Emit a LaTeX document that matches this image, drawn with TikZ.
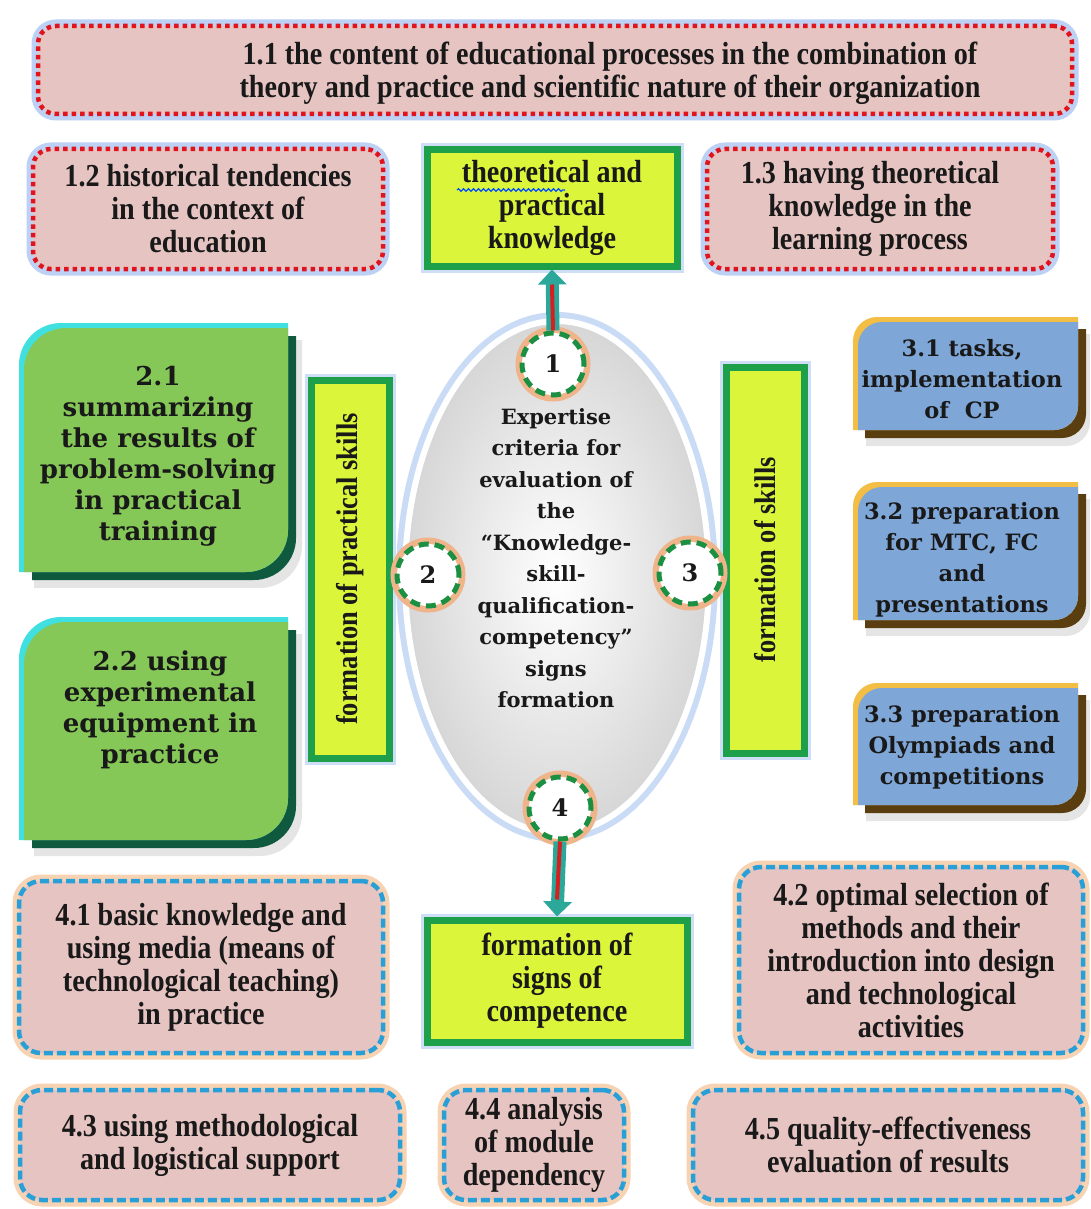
\documentclass[tikz,border=0pt]{standalone}
\usepackage{fontspec}
\setmainfont{Liberation Serif}
\newfontfamily\condfont[FakeStretch=0.88]{Liberation Serif}
\newfontfamily\widefont{DejaVu Serif}
\usetikzlibrary{arrows.meta,decorations.pathmorphing,shapes.geometric}
\definecolor{pinkfill}{RGB}{230,196,194}
\definecolor{reddot}{RGB}{225,20,30}
\definecolor{glowblue}{RGB}{160,190,240}
\definecolor{glowor}{RGB}{245,200,160}
\definecolor{bluedash}{RGB}{40,160,215}
\definecolor{yfill}{RGB}{218,245,58}
\definecolor{gborder}{RGB}{30,160,74}
\definecolor{gface}{RGB}{134,200,87}
\definecolor{gdark}{RGB}{15,90,62}
\definecolor{gcyan}{RGB}{64,224,224}
\definecolor{bface}{RGB}{126,166,214}
\definecolor{bgold}{RGB}{242,190,69}
\definecolor{bdark}{RGB}{90,62,16}
\definecolor{arrteal}{RGB}{43,168,154}
\definecolor{arrred}{RGB}{212,32,32}
\definecolor{txt}{RGB}{25,25,25}
\definecolor{halo}{RGB}{240,180,138}
\newcommand\bevelpath[5]{(#1,#4) -- (#1,#2+#5) .. controls (#1,#2+0.45*#5) and (#1+0.45*#5,#2) .. (#1+#5,#2) -- (#3,#2) -- (#3,#4-#5) .. controls (#3,#4-0.45*#5) and (#3-0.45*#5,#4) .. (#3-#5,#4) -- cycle}
\tikzset{
  tcond/.style={font=\condfont\bfseries\fontsize{32}{33}\selectfont, align=center, text=txt},
  twide/.style={font=\widefont\bfseries\fontsize{26}{31}\selectfont, align=center, text=txt},
  twideb/.style={font=\widefont\bfseries\fontsize{22.5}{31}\selectfont, align=center, text=txt},
  redbox/.style={rectangle, rounded corners=18pt, fill=pinkfill, draw=reddot, line width=4.5pt,
     dash pattern=on 4.5pt off 4pt, inner sep=0pt,
     preaction={draw=glowblue, line width=13pt, solid, opacity=0.7}},
  bluebox/.style={rectangle, rounded corners=22pt, fill=pinkfill, draw=bluedash, line width=4.5pt,
     dash pattern=on 9pt off 4pt, inner sep=0pt,
     preaction={draw=glowor, line width=13pt, solid, opacity=0.8}},
  ybox/.style={rectangle, fill=yfill, draw=gborder, line width=7pt, inner sep=0pt,
     preaction={draw=glowblue, line width=13pt, opacity=0.5}},
  numcirc/.style={circle, minimum size=62pt, inner sep=0pt, fill=white, draw=gborder!90!black,
     line width=5pt, dash pattern=on 10pt off 6pt,
     preaction={draw=halo, line width=13pt, solid},
     font=\widefont\bfseries\fontsize{24}{28}\selectfont, text=txt},
  shaft/.style={line width=13pt, draw=arrteal, -{Triangle[width=28pt,length=15pt]}},
  core/.style={line width=4pt, draw=arrred},
}
\begin{document}
\begin{tikzpicture}[x=1pt,y=-1pt]
\useasboundingbox (0,0) rectangle (1091,1209);
\fill[white] (0,0) rectangle (1091,1209);

% ---- row 1
\node[redbox, minimum width=1034pt, minimum height=88pt] (b11) at (555,70) {};
\node[tcond] (b11t) at (610,73) {1.1 the content of educational processes in the combination of\\theory and practice and scientific nature of their organization};
\node[redbox, minimum width=350pt, minimum height=120pt, tcond] (b12) at (208,209)
  {1.2 historical tendencies\\in the context of\\education};
\node[redbox, minimum width=346pt, minimum height=120pt, tcond] (b13) at (880,209)
  {\hspace*{-20pt}1.3 having theoretical\\\hspace*{-20pt}knowledge in the\\\hspace*{-20pt}learning process};
\node[ybox, minimum width=250pt, minimum height=116pt, tcond] (kn) at (552,208)
  {theoretical and\\practical\\knowledge};
\draw[blue!70!cyan, line width=1.2pt, decorate, decoration={snake, amplitude=1.3pt, segment length=5pt}]
  (457,190) -- (565,190);

% ---- green bevel boxes
\foreach \a/\b/\c/\d in {24/328/288/572, 24/622/288/840}{
  \fill[black, opacity=0.10] \bevelpath{\a+10}{\b+12}{\c+14}{\d+16}{42};
  \fill[gdark] \bevelpath{\a+8}{\b+8}{\c+8}{\d+8}{42};
  \fill[gcyan] \bevelpath{\a-5}{\b-5}{\c}{\d}{42};
  \fill[gface] \bevelpath{\a}{\b}{\c}{\d}{42};
}
\node[twide] (b21) at (158,456) {2.1\\summarizing\\the results of\\problem-solving\\in practical\\training};
\node[twide] (b22) at (160,710) {2.2 using\\experimental\\equipment in\\practice};

% ---- blue bevel boxes
\foreach \a/\b/\c/\d in {858/322/1078/430, 858/487/1078/620, 858/688/1078/805}{
  \fill[black, opacity=0.10] \bevelpath{\a+8}{\b+12}{\c+12}{\d+16}{24};
  \fill[bdark] \bevelpath{\a+7}{\b+7}{\c+8}{\d+8}{24};
  \fill[bgold] \bevelpath{\a-5}{\b-5}{\c}{\d}{24};
  \fill[bface] \bevelpath{\a}{\b}{\c}{\d}{24};
}
\node[twideb] (b31) at (962,379) {3.1 tasks,\\implementation\\of~~CP};
\node[twideb] (b32) at (962,560) {3.2 preparation\\for MTC, FC\\and\\presentations};
\node[twideb] (b33) at (962,747) {3.3 preparation\\Olympiads and\\competitions};

% ---- vertical boxes
\node[ybox, minimum width=78pt, minimum height=378pt] (vps) at (350,569) {};
\node[tcond, font=\condfont\bfseries\fontsize{30}{33}\selectfont, rotate=90] (vpst) at (vps.center) {formation of practical skills};
\node[ybox, minimum width=78pt, minimum height=386pt] (vs) at (765,560) {};
\node[tcond, font=\condfont\bfseries\fontsize{30}{33}\selectfont, rotate=90] (vst) at (vs.center) {formation of skills};

% ---- central ellipse
\node[ellipse, minimum width=304pt, minimum height=512pt, inner sep=0pt,
      shading=radial, inner color=white, outer color=gray!32,
      draw=white, line width=6pt,
      preaction={draw=glowblue, line width=18pt, opacity=0.55}] (ell) at (557,577) {};
\node[font=\widefont\bfseries\fontsize{21}{31.5}\selectfont, align=center, text=txt] (ellt) at (556,558)
  {Expertise\\criteria for\\evaluation of\\the\\“Knowledge-\\skill-\\qualification-\\competency”\\signs\\formation};
\node[numcirc] (c1) at (553,364) {1};
\node[numcirc] (c2) at (428,575) {2};
\node[numcirc] (c3) at (690,573) {3};
\node[numcirc] (c4) at (560,808) {4};

% ---- bottom
\node[ybox, minimum width=260pt, minimum height=122pt, tcond] (comp) at (557,981)
  {formation of\\signs of\\competence};
\node[bluebox, minimum width=364pt, minimum height=172pt, tcond] (b41) at (201,967)
  {4.1 basic knowledge and\\using media (means of\\technological teaching)\\in practice};
\node[bluebox, minimum width=344pt, minimum height=186pt, tcond] (b42) at (911,960)
  {4.2 optimal selection of\\methods and their\\introduction into design\\and technological\\activities};
\node[bluebox, minimum width=380pt, minimum height=110pt, tcond] (b43) at (210,1145)
  {4.3 using methodological\\and logistical support};
\node[bluebox, minimum width=180pt, minimum height=110pt, tcond] (b44) at (534,1145)
  {4.4 analysis\\of module\\dependency};
\node[bluebox, minimum width=390pt, minimum height=110pt, tcond] (b45) at (888,1145)
  {4.5 quality-effectiveness\\evaluation of results};

% ---- arrows
\draw[shaft] (c1.north) -- (kn.south);
\draw[core] (c1.north) -- ([yshift=-15pt]kn.south);
\draw[shaft] (c4.south) -- (comp.north);
\draw[core] (c4.south) -- ([yshift=17pt]comp.north);
\end{tikzpicture}
\end{document}
